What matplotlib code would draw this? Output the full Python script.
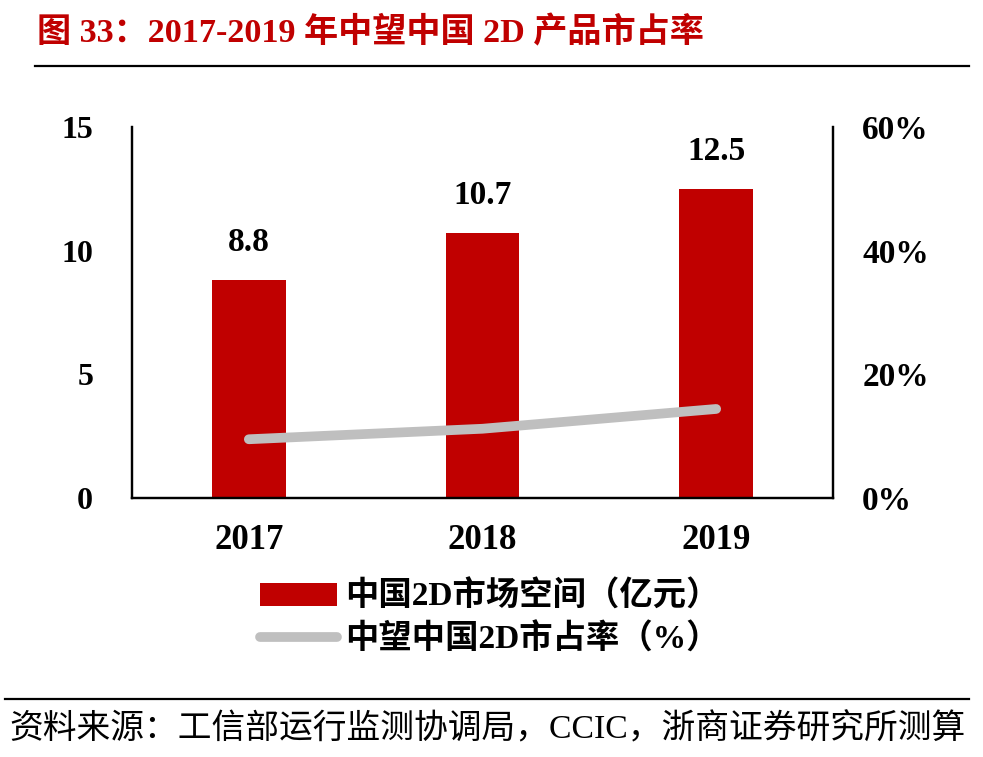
import matplotlib
matplotlib.use("Agg")
import matplotlib.pyplot as plt
from matplotlib.lines import Line2D
from matplotlib.patches import Patch
from matplotlib.ticker import FuncFormatter

plt.rcParams['font.family'] = ['Liberation Serif', 'Noto Sans CJK SC']

# data
years = ['2017', '2018', '2019']
market = [8.8, 10.7, 12.5]          # 中国2D市场空间（亿元）
share = [0.095, 0.112, 0.144]        # 中望中国2D市占率
left_ticks = [0, 5, 10, 15]
right_ticks = [0, 0.2, 0.4, 0.6]

title = '图 33：2017-2019 年中望中国 2D 产品市占率'
source = '资料来源：工信部运行监测协调局，CCIC，浙商证券研究所测算'
bar_label = '中国2D市场空间（亿元）'
line_label = '中望中国2D市占率（%）'

red = '#C00000'
grey = '#BFBFBF'

fig = plt.figure(figsize=(9.83, 7.57), dpi=100)
W, H = 983, 757
ax = fig.add_axes([132 / W, 1 - 498 / H, (833 - 132) / W, (498 - 127) / H])

x = range(len(years))
ax.bar(x, market, width=0.315, color=red, zorder=2)
for xi, v in zip(x, market):
    ax.annotate(f'{v:.1f}', (xi, v), xytext=(0, 16), textcoords='offset points',
                ha='center', va='bottom', fontsize=24, fontweight='bold')

ax.set_xlim(-0.5, 2.5)
ax.set_ylim(0, 15)
ax.set_xticks(list(x))
ax.set_xticklabels(years, fontsize=25, fontweight='bold')
ax.set_yticks(left_ticks)
ax.set_yticklabels([str(t) for t in left_ticks], fontsize=23, fontweight='bold')
ax.tick_params(axis='y', length=0, pad=28)
ax.tick_params(axis='x', length=0, pad=19)

ax2 = ax.twinx()
ax2.plot(list(x), share, color=grey, lw=7, solid_capstyle='round', zorder=3)
ax2.set_ylim(0, 0.6)
ax2.set_yticks(right_ticks)
ax2.yaxis.set_major_formatter(FuncFormatter(lambda v, p: f'{v * 100:.0f}%'))
for lab in ax2.get_yticklabels():
    lab.set_fontsize(24)
    lab.set_fontweight('bold')
ax2.tick_params(axis='y', length=0, pad=21)

for a in (ax, ax2):
    a.spines['top'].set_visible(False)
    for s in ('left', 'right', 'bottom'):
        a.spines[s].set_linewidth(1.6)
        a.spines[s].set_color('black')

handles = [Patch(facecolor=red, edgecolor='none'),
           Line2D([0], [0], color=grey, lw=7, solid_capstyle='round')]
fig.legend(handles, [bar_label, line_label], loc='center',
           bbox_to_anchor=(490 / W, 1 - 618 / H), frameon=False,
           prop={'size': 24, 'weight': 'bold'}, handlelength=2.3,
           handletextpad=0.25, labelspacing=0.3)

fig.text(37 / W, 1 - 33 / H, title, color=red, fontsize=24.6, fontweight='bold',
         ha='left', va='center')
fig.add_artist(Line2D([35 / W, 969 / W], [1 - 66 / H] * 2, color='black', lw=1.6))
fig.add_artist(Line2D([5 / W, 969 / W], [1 - 699 / H] * 2, color='black', lw=1.6))
fig.text(9 / W, 1 - 729 / H, source, fontsize=24.3, ha='left', va='center')

fig.savefig('out.png', dpi=100)
